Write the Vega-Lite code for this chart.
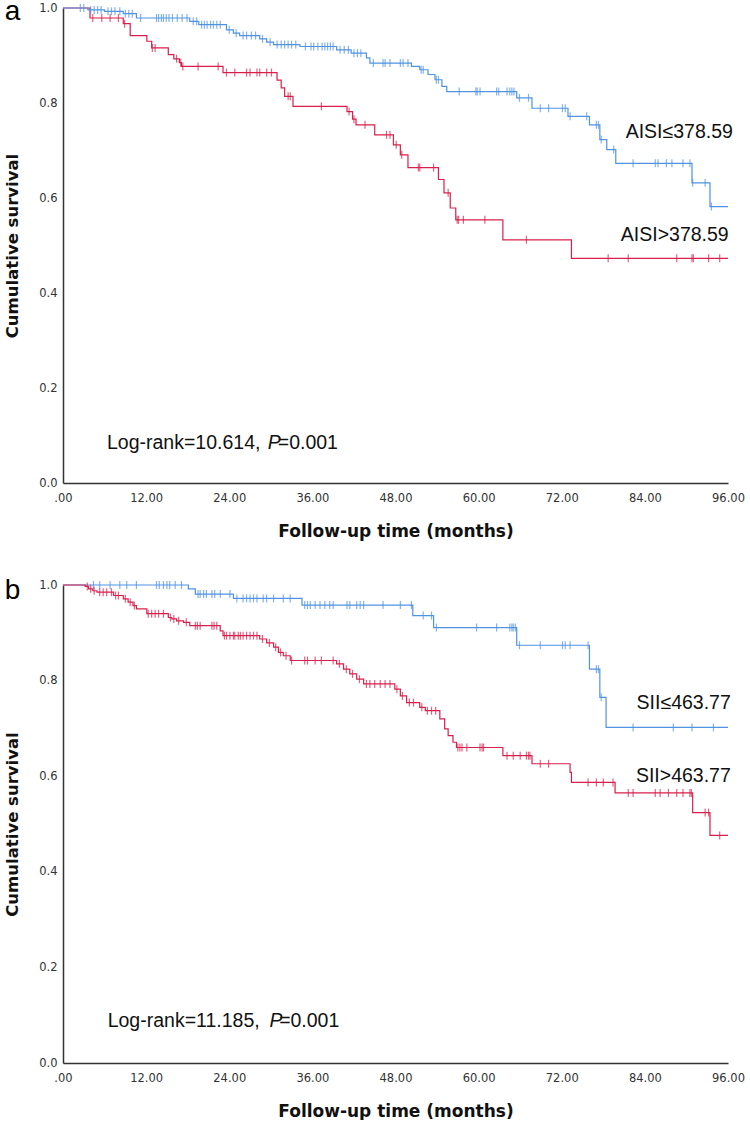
{
  "$schema": "https://vega.github.io/schema/vega-lite/v6.json",
  "background": "white",
  "padding": {"left": 4, "top": -3, "right": 0, "bottom": 0},
  "spacing": 36,
  "config": {
    "view": {"stroke": null},
    "axis": {
      "domainColor": "#333333",
      "domainWidth": 1.5,
      "ticks": false,
      "grid": false,
      "labelFont": "DejaVu Sans",
      "labelFontSize": 11.5,
      "labelColor": "#333333",
      "labelFlush": false,
      "titleFont": "DejaVu Sans",
      "titleFontSize": 16.5,
      "titleFontWeight": "bold",
      "titleColor": "#111111"
    },
    "axisX": {"labelPadding": 9, "titlePadding": 20, "labelAngle": 0, "titleFontSize": 17},
    "axisY": {"labelPadding": 6, "titlePadding": 18},
    "text": {"font": "Liberation Sans", "fontSize": 19.5, "color": "#111111"}
  },
  "vconcat": [
    {
      "width": 665,
      "height": 475,
      "layer": [
        {
          "data": {"values": [
            {"g":"high","t":0,"s":1,"c":0},
            {"g":"high","t":3.9,"s":0.979,"c":0},
            {"g":"high","t":4.3,"s":0.979,"c":1},
            {"g":"high","t":5.6,"s":0.979,"c":1},
            {"g":"high","t":6.8,"s":0.979,"c":1},
            {"g":"high","t":8.0,"s":0.979,"c":1},
            {"g":"high","t":8.7,"s":0.967,"c":0},
            {"g":"high","t":8.9,"s":0.967,"c":1},
            {"g":"high","t":9.7,"s":0.942,"c":0},
            {"g":"high","t":12.1,"s":0.930,"c":0},
            {"g":"high","t":12.8,"s":0.916,"c":0},
            {"g":"high","t":12.9,"s":0.916,"c":1},
            {"g":"high","t":13.3,"s":0.916,"c":1},
            {"g":"high","t":15.2,"s":0.902,"c":0},
            {"g":"high","t":16.0,"s":0.893,"c":0},
            {"g":"high","t":16.4,"s":0.893,"c":1},
            {"g":"high","t":16.8,"s":0.885,"c":0},
            {"g":"high","t":17.0,"s":0.885,"c":1},
            {"g":"high","t":17.1,"s":0.877,"c":0},
            {"g":"high","t":17.3,"s":0.877,"c":1},
            {"g":"high","t":19.5,"s":0.877,"c":1},
            {"g":"high","t":22.4,"s":0.877,"c":1},
            {"g":"high","t":23.1,"s":0.864,"c":0},
            {"g":"high","t":23.6,"s":0.864,"c":1},
            {"g":"high","t":24.8,"s":0.864,"c":1},
            {"g":"high","t":26.5,"s":0.864,"c":1},
            {"g":"high","t":27.0,"s":0.864,"c":1},
            {"g":"high","t":28.0,"s":0.864,"c":1},
            {"g":"high","t":28.4,"s":0.864,"c":1},
            {"g":"high","t":29.4,"s":0.864,"c":1},
            {"g":"high","t":30.1,"s":0.864,"c":1},
            {"g":"high","t":30.9,"s":0.848,"c":0},
            {"g":"high","t":31.5,"s":0.832,"c":0},
            {"g":"high","t":32.0,"s":0.814,"c":0},
            {"g":"high","t":32.5,"s":0.814,"c":1},
            {"g":"high","t":32.8,"s":0.814,"c":1},
            {"g":"high","t":33.2,"s":0.793,"c":0},
            {"g":"high","t":37.3,"s":0.793,"c":1},
            {"g":"high","t":41.0,"s":0.782,"c":0},
            {"g":"high","t":41.3,"s":0.782,"c":1},
            {"g":"high","t":41.8,"s":0.766,"c":0},
            {"g":"high","t":42.0,"s":0.766,"c":1},
            {"g":"high","t":42.3,"s":0.754,"c":0},
            {"g":"high","t":43.6,"s":0.754,"c":1},
            {"g":"high","t":45.0,"s":0.733,"c":0},
            {"g":"high","t":46.7,"s":0.733,"c":1},
            {"g":"high","t":47.2,"s":0.733,"c":1},
            {"g":"high","t":47.7,"s":0.712,"c":0},
            {"g":"high","t":48.1,"s":0.712,"c":1},
            {"g":"high","t":48.7,"s":0.691,"c":0},
            {"g":"high","t":48.9,"s":0.691,"c":1},
            {"g":"high","t":49.8,"s":0.664,"c":0},
            {"g":"high","t":51.3,"s":0.664,"c":1},
            {"g":"high","t":51.5,"s":0.664,"c":1},
            {"g":"high","t":53.5,"s":0.664,"c":1},
            {"g":"high","t":54.2,"s":0.639,"c":0},
            {"g":"high","t":55.0,"s":0.611,"c":0},
            {"g":"high","t":55.6,"s":0.611,"c":1},
            {"g":"high","t":55.9,"s":0.579,"c":0},
            {"g":"high","t":56.7,"s":0.554,"c":0},
            {"g":"high","t":56.9,"s":0.554,"c":1},
            {"g":"high","t":57.1,"s":0.554,"c":1},
            {"g":"high","t":57.8,"s":0.554,"c":1},
            {"g":"high","t":60.9,"s":0.554,"c":1},
            {"g":"high","t":63.5,"s":0.512,"c":0},
            {"g":"high","t":66.9,"s":0.512,"c":1},
            {"g":"high","t":73.4,"s":0.473,"c":0},
            {"g":"high","t":78.7,"s":0.473,"c":1},
            {"g":"high","t":81.6,"s":0.473,"c":1},
            {"g":"high","t":88.6,"s":0.473,"c":1},
            {"g":"high","t":90.8,"s":0.473,"c":1},
            {"g":"high","t":91.0,"s":0.473,"c":1},
            {"g":"high","t":93.2,"s":0.473,"c":1},
            {"g":"high","t":94.8,"s":0.473,"c":1},
            {"g":"high","t":96.0,"s":0.473,"c":0},
            {"g":"low","t":0,"s":1,"c":0},
            {"g":"low","t":2.5,"s":1,"c":1},
            {"g":"low","t":3.0,"s":1,"c":1},
            {"g":"low","t":3.6,"s":0.996,"c":0},
            {"g":"low","t":4.0,"s":0.996,"c":1},
            {"g":"low","t":4.5,"s":0.996,"c":1},
            {"g":"low","t":5.0,"s":0.996,"c":1},
            {"g":"low","t":5.5,"s":0.996,"c":1},
            {"g":"low","t":6.0,"s":0.993,"c":0},
            {"g":"low","t":6.5,"s":0.993,"c":1},
            {"g":"low","t":7.0,"s":0.993,"c":1},
            {"g":"low","t":7.5,"s":0.993,"c":1},
            {"g":"low","t":8.2,"s":0.993,"c":1},
            {"g":"low","t":8.7,"s":0.988,"c":0},
            {"g":"low","t":9.0,"s":0.988,"c":1},
            {"g":"low","t":9.5,"s":0.988,"c":1},
            {"g":"low","t":10.0,"s":0.988,"c":1},
            {"g":"low","t":10.6,"s":0.979,"c":0},
            {"g":"low","t":11.2,"s":0.979,"c":1},
            {"g":"low","t":13.5,"s":0.979,"c":1},
            {"g":"low","t":13.8,"s":0.979,"c":1},
            {"g":"low","t":14.2,"s":0.979,"c":1},
            {"g":"low","t":14.5,"s":0.979,"c":1},
            {"g":"low","t":14.9,"s":0.979,"c":1},
            {"g":"low","t":15.3,"s":0.979,"c":1},
            {"g":"low","t":15.8,"s":0.979,"c":1},
            {"g":"low","t":16.5,"s":0.979,"c":1},
            {"g":"low","t":17.2,"s":0.979,"c":1},
            {"g":"low","t":17.9,"s":0.979,"c":1},
            {"g":"low","t":18.3,"s":0.972,"c":0},
            {"g":"low","t":18.8,"s":0.972,"c":1},
            {"g":"low","t":19.3,"s":0.972,"c":1},
            {"g":"low","t":19.6,"s":0.965,"c":0},
            {"g":"low","t":20.0,"s":0.965,"c":1},
            {"g":"low","t":20.4,"s":0.965,"c":1},
            {"g":"low","t":20.8,"s":0.965,"c":1},
            {"g":"low","t":21.3,"s":0.965,"c":1},
            {"g":"low","t":21.7,"s":0.965,"c":1},
            {"g":"low","t":22.2,"s":0.965,"c":1},
            {"g":"low","t":22.7,"s":0.965,"c":1},
            {"g":"low","t":23.6,"s":0.954,"c":0},
            {"g":"low","t":24.0,"s":0.954,"c":1},
            {"g":"low","t":24.6,"s":0.947,"c":0},
            {"g":"low","t":25.0,"s":0.947,"c":1},
            {"g":"low","t":25.5,"s":0.942,"c":0},
            {"g":"low","t":26.0,"s":0.942,"c":1},
            {"g":"low","t":26.5,"s":0.942,"c":1},
            {"g":"low","t":27.2,"s":0.942,"c":1},
            {"g":"low","t":27.8,"s":0.942,"c":1},
            {"g":"low","t":28.4,"s":0.935,"c":0},
            {"g":"low","t":28.8,"s":0.935,"c":1},
            {"g":"low","t":29.4,"s":0.928,"c":0},
            {"g":"low","t":29.9,"s":0.928,"c":1},
            {"g":"low","t":30.4,"s":0.923,"c":0},
            {"g":"low","t":30.9,"s":0.923,"c":1},
            {"g":"low","t":31.5,"s":0.923,"c":1},
            {"g":"low","t":32.0,"s":0.923,"c":1},
            {"g":"low","t":32.5,"s":0.923,"c":1},
            {"g":"low","t":33.0,"s":0.923,"c":1},
            {"g":"low","t":33.6,"s":0.923,"c":1},
            {"g":"low","t":34.2,"s":0.919,"c":0},
            {"g":"low","t":35.0,"s":0.919,"c":1},
            {"g":"low","t":35.8,"s":0.919,"c":1},
            {"g":"low","t":36.2,"s":0.919,"c":1},
            {"g":"low","t":36.8,"s":0.919,"c":1},
            {"g":"low","t":37.4,"s":0.919,"c":1},
            {"g":"low","t":37.8,"s":0.919,"c":1},
            {"g":"low","t":38.2,"s":0.919,"c":1},
            {"g":"low","t":38.6,"s":0.919,"c":1},
            {"g":"low","t":39.0,"s":0.919,"c":1},
            {"g":"low","t":39.5,"s":0.912,"c":0},
            {"g":"low","t":40.0,"s":0.912,"c":1},
            {"g":"low","t":40.6,"s":0.912,"c":1},
            {"g":"low","t":41.2,"s":0.912,"c":1},
            {"g":"low","t":41.6,"s":0.905,"c":0},
            {"g":"low","t":42.0,"s":0.905,"c":1},
            {"g":"low","t":42.5,"s":0.905,"c":1},
            {"g":"low","t":43.0,"s":0.905,"c":1},
            {"g":"low","t":43.8,"s":0.895,"c":0},
            {"g":"low","t":44.3,"s":0.884,"c":0},
            {"g":"low","t":44.8,"s":0.884,"c":1},
            {"g":"low","t":46.2,"s":0.884,"c":1},
            {"g":"low","t":46.5,"s":0.884,"c":1},
            {"g":"low","t":47.2,"s":0.884,"c":1},
            {"g":"low","t":48.7,"s":0.884,"c":1},
            {"g":"low","t":49.1,"s":0.884,"c":1},
            {"g":"low","t":49.8,"s":0.884,"c":1},
            {"g":"low","t":50.3,"s":0.877,"c":0},
            {"g":"low","t":51.5,"s":0.870,"c":0},
            {"g":"low","t":51.7,"s":0.870,"c":1},
            {"g":"low","t":52.0,"s":0.870,"c":1},
            {"g":"low","t":52.7,"s":0.860,"c":0},
            {"g":"low","t":53.7,"s":0.849,"c":0},
            {"g":"low","t":53.9,"s":0.849,"c":1},
            {"g":"low","t":54.2,"s":0.849,"c":1},
            {"g":"low","t":54.7,"s":0.835,"c":0},
            {"g":"low","t":55.4,"s":0.824,"c":0},
            {"g":"low","t":57.2,"s":0.824,"c":1},
            {"g":"low","t":59.6,"s":0.824,"c":1},
            {"g":"low","t":59.8,"s":0.824,"c":1},
            {"g":"low","t":60.2,"s":0.824,"c":1},
            {"g":"low","t":62.6,"s":0.824,"c":1},
            {"g":"low","t":62.9,"s":0.824,"c":1},
            {"g":"low","t":64.1,"s":0.824,"c":1},
            {"g":"low","t":64.5,"s":0.824,"c":1},
            {"g":"low","t":64.8,"s":0.824,"c":1},
            {"g":"low","t":65.1,"s":0.824,"c":1},
            {"g":"low","t":65.5,"s":0.811,"c":0},
            {"g":"low","t":65.9,"s":0.811,"c":1},
            {"g":"low","t":67.2,"s":0.811,"c":1},
            {"g":"low","t":67.7,"s":0.789,"c":0},
            {"g":"low","t":68.9,"s":0.789,"c":1},
            {"g":"low","t":70.1,"s":0.789,"c":1},
            {"g":"low","t":72.1,"s":0.789,"c":1},
            {"g":"low","t":72.5,"s":0.789,"c":1},
            {"g":"low","t":72.9,"s":0.772,"c":0},
            {"g":"low","t":73.2,"s":0.772,"c":1},
            {"g":"low","t":75.6,"s":0.772,"c":1},
            {"g":"low","t":76.0,"s":0.754,"c":0},
            {"g":"low","t":77.0,"s":0.754,"c":1},
            {"g":"low","t":77.3,"s":0.754,"c":1},
            {"g":"low","t":77.5,"s":0.723,"c":0},
            {"g":"low","t":77.7,"s":0.723,"c":1},
            {"g":"low","t":78.5,"s":0.702,"c":0},
            {"g":"low","t":79.5,"s":0.702,"c":1},
            {"g":"low","t":79.8,"s":0.673,"c":0},
            {"g":"low","t":82.3,"s":0.673,"c":1},
            {"g":"low","t":85.5,"s":0.673,"c":1},
            {"g":"low","t":85.9,"s":0.673,"c":1},
            {"g":"low","t":87.1,"s":0.673,"c":1},
            {"g":"low","t":87.9,"s":0.673,"c":1},
            {"g":"low","t":89.5,"s":0.673,"c":1},
            {"g":"low","t":90.5,"s":0.673,"c":1},
            {"g":"low","t":90.8,"s":0.632,"c":0},
            {"g":"low","t":90.9,"s":0.632,"c":1},
            {"g":"low","t":92.7,"s":0.632,"c":1},
            {"g":"low","t":93.4,"s":0.582,"c":0},
            {"g":"low","t":93.6,"s":0.582,"c":1},
            {"g":"low","t":96.0,"s":0.582,"c":0}
          ]},
          "encoding": {
            "x": {"field": "t", "type": "quantitative", "scale": {"domain": [0, 96], "nice": false}, "axis": {"title": "Follow-up time (months)", "values": [0, 12, 24, 36, 48, 60, 72, 84, 96], "labelExpr": "datum.value == 0 ? '.00' : format(datum.value, '.2f')"}},
            "y": {"field": "s", "type": "quantitative", "scale": {"domain": [0, 1], "nice": false}, "axis": {"title": "Cumulative survival", "values": [0, 0.2, 0.4, 0.6, 0.8, 1], "format": ".1f"}},
            "color": {"field": "g", "type": "nominal", "scale": {"domain": ["low", "high"], "range": ["#4f93e3", "#d91f4b"]}, "legend": null}
          },
          "layer": [
            {"mark": {"type": "line", "interpolate": "step-after", "strokeWidth": 1.2}},
            {"transform": [{"filter": "datum.c == 1"}], "mark": {"type": "tick", "orient": "vertical", "size": 8, "thickness": 1.2}}
          ]
        },
        {"data": {"values": [{"label": "a"}]}, "mark": {"type": "text", "align": "left", "baseline": "alphabetic", "fontSize": 28, "color": "#000000"}, "encoding": {"x": {"datum": -8.4, "type": "quantitative"}, "y": {"datum": 0.975, "type": "quantitative"}, "text": {"field": "label"}}},
        {"data": {"values": [{"label": "AISI≤378.59"}]}, "mark": {"type": "text", "align": "right", "baseline": "middle"}, "encoding": {"x": {"datum": 96.7, "type": "quantitative"}, "y": {"datum": 0.740, "type": "quantitative"}, "text": {"field": "label"}}},
        {"data": {"values": [{"label": "AISI>378.59"}]}, "mark": {"type": "text", "align": "right", "baseline": "middle"}, "encoding": {"x": {"datum": 96.1, "type": "quantitative"}, "y": {"datum": 0.523, "type": "quantitative"}, "text": {"field": "label"}}},
        {"data": {"values": [{"label": "Log-rank=10.614,"}]}, "mark": {"type": "text", "align": "left", "baseline": "middle"}, "encoding": {"x": {"datum": 6.35, "type": "quantitative"}, "y": {"datum": 0.085, "type": "quantitative"}, "text": {"field": "label"}}},
        {"data": {"values": [{"label": "P"}]}, "mark": {"type": "text", "align": "left", "baseline": "middle", "fontStyle": "italic"}, "encoding": {"x": {"datum": 29.55, "type": "quantitative"}, "y": {"datum": 0.085, "type": "quantitative"}, "text": {"field": "label"}}},
        {"data": {"values": [{"label": "=0.001"}]}, "mark": {"type": "text", "align": "left", "baseline": "middle"}, "encoding": {"x": {"datum": 31.0, "type": "quantitative"}, "y": {"datum": 0.085, "type": "quantitative"}, "text": {"field": "label"}}}
      ]
    },
    {
      "width": 665,
      "height": 478,
      "layer": [
        {
          "data": {"values": [
            {"g":"low","t":0,"s":1,"c":0},
            {"g":"low","t":4.4,"s":1,"c":1},
            {"g":"low","t":5.3,"s":1,"c":1},
            {"g":"low","t":6.8,"s":1,"c":1},
            {"g":"low","t":8.2,"s":1,"c":1},
            {"g":"low","t":9.2,"s":1,"c":1},
            {"g":"low","t":10.6,"s":1,"c":1},
            {"g":"low","t":13.5,"s":1,"c":1},
            {"g":"low","t":13.9,"s":1,"c":1},
            {"g":"low","t":14.5,"s":1,"c":1},
            {"g":"low","t":15.0,"s":1,"c":1},
            {"g":"low","t":15.4,"s":1,"c":1},
            {"g":"low","t":16.2,"s":1,"c":1},
            {"g":"low","t":17.1,"s":1,"c":1},
            {"g":"low","t":18.1,"s":0.992,"c":0},
            {"g":"low","t":19.1,"s":0.981,"c":0},
            {"g":"low","t":19.5,"s":0.981,"c":1},
            {"g":"low","t":19.8,"s":0.981,"c":1},
            {"g":"low","t":20.3,"s":0.981,"c":1},
            {"g":"low","t":20.7,"s":0.981,"c":1},
            {"g":"low","t":21.5,"s":0.981,"c":1},
            {"g":"low","t":21.9,"s":0.981,"c":1},
            {"g":"low","t":22.7,"s":0.981,"c":1},
            {"g":"low","t":24.1,"s":0.981,"c":1},
            {"g":"low","t":24.6,"s":0.972,"c":0},
            {"g":"low","t":25.1,"s":0.972,"c":1},
            {"g":"low","t":26.0,"s":0.972,"c":1},
            {"g":"low","t":26.5,"s":0.972,"c":1},
            {"g":"low","t":27.0,"s":0.972,"c":1},
            {"g":"low","t":27.5,"s":0.972,"c":1},
            {"g":"low","t":28.0,"s":0.972,"c":1},
            {"g":"low","t":28.9,"s":0.972,"c":1},
            {"g":"low","t":29.4,"s":0.972,"c":1},
            {"g":"low","t":30.4,"s":0.972,"c":1},
            {"g":"low","t":31.8,"s":0.972,"c":1},
            {"g":"low","t":32.8,"s":0.972,"c":1},
            {"g":"low","t":34.5,"s":0.958,"c":0},
            {"g":"low","t":34.9,"s":0.958,"c":1},
            {"g":"low","t":35.3,"s":0.958,"c":1},
            {"g":"low","t":35.7,"s":0.958,"c":1},
            {"g":"low","t":36.4,"s":0.958,"c":1},
            {"g":"low","t":37.1,"s":0.958,"c":1},
            {"g":"low","t":37.8,"s":0.958,"c":1},
            {"g":"low","t":38.5,"s":0.958,"c":1},
            {"g":"low","t":39.0,"s":0.958,"c":1},
            {"g":"low","t":41.0,"s":0.958,"c":1},
            {"g":"low","t":41.4,"s":0.958,"c":1},
            {"g":"low","t":42.4,"s":0.958,"c":1},
            {"g":"low","t":42.9,"s":0.958,"c":1},
            {"g":"low","t":43.4,"s":0.958,"c":1},
            {"g":"low","t":46.2,"s":0.958,"c":1},
            {"g":"low","t":48.7,"s":0.958,"c":1},
            {"g":"low","t":50.3,"s":0.958,"c":1},
            {"g":"low","t":50.5,"s":0.936,"c":0},
            {"g":"low","t":52.0,"s":0.936,"c":1},
            {"g":"low","t":53.2,"s":0.936,"c":1},
            {"g":"low","t":53.5,"s":0.911,"c":0},
            {"g":"low","t":53.9,"s":0.911,"c":1},
            {"g":"low","t":59.7,"s":0.911,"c":1},
            {"g":"low","t":62.6,"s":0.911,"c":1},
            {"g":"low","t":64.5,"s":0.911,"c":1},
            {"g":"low","t":64.8,"s":0.911,"c":1},
            {"g":"low","t":65.0,"s":0.911,"c":1},
            {"g":"low","t":65.3,"s":0.911,"c":1},
            {"g":"low","t":65.5,"s":0.874,"c":0},
            {"g":"low","t":65.9,"s":0.874,"c":1},
            {"g":"low","t":68.9,"s":0.874,"c":1},
            {"g":"low","t":72.1,"s":0.874,"c":1},
            {"g":"low","t":72.5,"s":0.874,"c":1},
            {"g":"low","t":73.2,"s":0.874,"c":1},
            {"g":"low","t":75.8,"s":0.874,"c":1},
            {"g":"low","t":76.0,"s":0.824,"c":0},
            {"g":"low","t":77.0,"s":0.824,"c":1},
            {"g":"low","t":77.3,"s":0.824,"c":1},
            {"g":"low","t":77.5,"s":0.765,"c":0},
            {"g":"low","t":77.7,"s":0.765,"c":1},
            {"g":"low","t":78.4,"s":0.702,"c":0},
            {"g":"low","t":82.3,"s":0.702,"c":1},
            {"g":"low","t":88.1,"s":0.702,"c":1},
            {"g":"low","t":90.8,"s":0.702,"c":1},
            {"g":"low","t":93.9,"s":0.702,"c":1},
            {"g":"low","t":96.0,"s":0.702,"c":0},
            {"g":"high","t":0,"s":1,"c":0},
            {"g":"high","t":3.2,"s":0.997,"c":0},
            {"g":"high","t":3.5,"s":0.997,"c":1},
            {"g":"high","t":3.7,"s":0.992,"c":0},
            {"g":"high","t":4.0,"s":0.992,"c":1},
            {"g":"high","t":4.3,"s":0.988,"c":0},
            {"g":"high","t":4.5,"s":0.988,"c":1},
            {"g":"high","t":4.9,"s":0.985,"c":0},
            {"g":"high","t":5.3,"s":0.985,"c":1},
            {"g":"high","t":5.8,"s":0.985,"c":1},
            {"g":"high","t":6.3,"s":0.985,"c":1},
            {"g":"high","t":7.0,"s":0.985,"c":1},
            {"g":"high","t":7.3,"s":0.978,"c":0},
            {"g":"high","t":7.6,"s":0.978,"c":1},
            {"g":"high","t":8.0,"s":0.978,"c":1},
            {"g":"high","t":8.7,"s":0.971,"c":0},
            {"g":"high","t":9.0,"s":0.971,"c":1},
            {"g":"high","t":9.4,"s":0.964,"c":0},
            {"g":"high","t":9.7,"s":0.964,"c":1},
            {"g":"high","t":10.1,"s":0.957,"c":0},
            {"g":"high","t":10.3,"s":0.957,"c":1},
            {"g":"high","t":10.6,"s":0.950,"c":0},
            {"g":"high","t":12.1,"s":0.940,"c":0},
            {"g":"high","t":12.3,"s":0.940,"c":1},
            {"g":"high","t":12.8,"s":0.940,"c":1},
            {"g":"high","t":13.3,"s":0.940,"c":1},
            {"g":"high","t":13.8,"s":0.940,"c":1},
            {"g":"high","t":14.5,"s":0.940,"c":1},
            {"g":"high","t":15.2,"s":0.932,"c":0},
            {"g":"high","t":15.5,"s":0.932,"c":1},
            {"g":"high","t":15.7,"s":0.929,"c":0},
            {"g":"high","t":16.0,"s":0.929,"c":1},
            {"g":"high","t":16.4,"s":0.925,"c":0},
            {"g":"high","t":16.7,"s":0.925,"c":1},
            {"g":"high","t":17.4,"s":0.922,"c":0},
            {"g":"high","t":17.8,"s":0.922,"c":1},
            {"g":"high","t":18.3,"s":0.915,"c":0},
            {"g":"high","t":19.1,"s":0.915,"c":1},
            {"g":"high","t":19.4,"s":0.915,"c":1},
            {"g":"high","t":19.8,"s":0.915,"c":1},
            {"g":"high","t":21.5,"s":0.915,"c":1},
            {"g":"high","t":21.8,"s":0.915,"c":1},
            {"g":"high","t":22.2,"s":0.915,"c":1},
            {"g":"high","t":22.7,"s":0.904,"c":0},
            {"g":"high","t":23.1,"s":0.894,"c":0},
            {"g":"high","t":23.3,"s":0.894,"c":1},
            {"g":"high","t":23.6,"s":0.894,"c":1},
            {"g":"high","t":24.1,"s":0.894,"c":1},
            {"g":"high","t":24.6,"s":0.894,"c":1},
            {"g":"high","t":24.8,"s":0.894,"c":1},
            {"g":"high","t":25.3,"s":0.894,"c":1},
            {"g":"high","t":25.6,"s":0.894,"c":1},
            {"g":"high","t":26.0,"s":0.894,"c":1},
            {"g":"high","t":26.5,"s":0.894,"c":1},
            {"g":"high","t":27.0,"s":0.894,"c":1},
            {"g":"high","t":27.5,"s":0.894,"c":1},
            {"g":"high","t":28.0,"s":0.894,"c":1},
            {"g":"high","t":28.4,"s":0.887,"c":0},
            {"g":"high","t":28.8,"s":0.887,"c":1},
            {"g":"high","t":29.4,"s":0.879,"c":0},
            {"g":"high","t":29.8,"s":0.879,"c":1},
            {"g":"high","t":30.4,"s":0.870,"c":0},
            {"g":"high","t":30.7,"s":0.870,"c":1},
            {"g":"high","t":31.1,"s":0.859,"c":0},
            {"g":"high","t":31.4,"s":0.859,"c":1},
            {"g":"high","t":31.8,"s":0.852,"c":0},
            {"g":"high","t":32.2,"s":0.852,"c":1},
            {"g":"high","t":32.8,"s":0.842,"c":0},
            {"g":"high","t":33.0,"s":0.842,"c":1},
            {"g":"high","t":34.9,"s":0.842,"c":1},
            {"g":"high","t":35.3,"s":0.842,"c":1},
            {"g":"high","t":36.4,"s":0.842,"c":1},
            {"g":"high","t":37.3,"s":0.842,"c":1},
            {"g":"high","t":39.0,"s":0.842,"c":1},
            {"g":"high","t":39.5,"s":0.835,"c":0},
            {"g":"high","t":39.9,"s":0.835,"c":1},
            {"g":"high","t":40.5,"s":0.824,"c":0},
            {"g":"high","t":40.9,"s":0.824,"c":1},
            {"g":"high","t":41.4,"s":0.814,"c":0},
            {"g":"high","t":41.8,"s":0.814,"c":1},
            {"g":"high","t":42.4,"s":0.803,"c":0},
            {"g":"high","t":42.8,"s":0.803,"c":1},
            {"g":"high","t":43.4,"s":0.793,"c":0},
            {"g":"high","t":43.8,"s":0.793,"c":1},
            {"g":"high","t":44.3,"s":0.793,"c":1},
            {"g":"high","t":45.0,"s":0.793,"c":1},
            {"g":"high","t":45.8,"s":0.793,"c":1},
            {"g":"high","t":46.5,"s":0.793,"c":1},
            {"g":"high","t":47.2,"s":0.793,"c":1},
            {"g":"high","t":47.9,"s":0.782,"c":0},
            {"g":"high","t":48.2,"s":0.782,"c":1},
            {"g":"high","t":48.7,"s":0.768,"c":0},
            {"g":"high","t":49.0,"s":0.768,"c":1},
            {"g":"high","t":49.6,"s":0.754,"c":0},
            {"g":"high","t":50.0,"s":0.754,"c":1},
            {"g":"high","t":50.6,"s":0.754,"c":1},
            {"g":"high","t":51.5,"s":0.744,"c":0},
            {"g":"high","t":51.8,"s":0.744,"c":1},
            {"g":"high","t":52.3,"s":0.737,"c":0},
            {"g":"high","t":52.6,"s":0.737,"c":1},
            {"g":"high","t":53.2,"s":0.737,"c":1},
            {"g":"high","t":53.8,"s":0.737,"c":1},
            {"g":"high","t":54.4,"s":0.720,"c":0},
            {"g":"high","t":55.1,"s":0.699,"c":0},
            {"g":"high","t":55.6,"s":0.685,"c":0},
            {"g":"high","t":56.3,"s":0.671,"c":0},
            {"g":"high","t":56.8,"s":0.660,"c":0},
            {"g":"high","t":57.0,"s":0.660,"c":1},
            {"g":"high","t":57.3,"s":0.660,"c":1},
            {"g":"high","t":57.6,"s":0.660,"c":1},
            {"g":"high","t":58.3,"s":0.660,"c":1},
            {"g":"high","t":60.2,"s":0.660,"c":1},
            {"g":"high","t":60.5,"s":0.660,"c":1},
            {"g":"high","t":60.7,"s":0.660,"c":1},
            {"g":"high","t":63.5,"s":0.643,"c":0},
            {"g":"high","t":64.1,"s":0.643,"c":1},
            {"g":"high","t":65.0,"s":0.643,"c":1},
            {"g":"high","t":66.0,"s":0.643,"c":1},
            {"g":"high","t":66.9,"s":0.643,"c":1},
            {"g":"high","t":67.2,"s":0.643,"c":1},
            {"g":"high","t":67.4,"s":0.643,"c":1},
            {"g":"high","t":67.7,"s":0.626,"c":0},
            {"g":"high","t":68.9,"s":0.626,"c":1},
            {"g":"high","t":70.1,"s":0.626,"c":1},
            {"g":"high","t":73.2,"s":0.608,"c":0},
            {"g":"high","t":73.4,"s":0.587,"c":0},
            {"g":"high","t":75.8,"s":0.587,"c":1},
            {"g":"high","t":77.0,"s":0.587,"c":1},
            {"g":"high","t":78.0,"s":0.587,"c":1},
            {"g":"high","t":79.4,"s":0.587,"c":1},
            {"g":"high","t":79.7,"s":0.565,"c":0},
            {"g":"high","t":81.6,"s":0.565,"c":1},
            {"g":"high","t":82.3,"s":0.565,"c":1},
            {"g":"high","t":85.5,"s":0.565,"c":1},
            {"g":"high","t":86.2,"s":0.565,"c":1},
            {"g":"high","t":87.4,"s":0.565,"c":1},
            {"g":"high","t":88.6,"s":0.565,"c":1},
            {"g":"high","t":89.5,"s":0.565,"c":1},
            {"g":"high","t":90.5,"s":0.565,"c":1},
            {"g":"high","t":90.7,"s":0.565,"c":1},
            {"g":"high","t":90.9,"s":0.524,"c":0},
            {"g":"high","t":92.7,"s":0.524,"c":1},
            {"g":"high","t":93.2,"s":0.524,"c":1},
            {"g":"high","t":93.4,"s":0.476,"c":0},
            {"g":"high","t":94.8,"s":0.476,"c":1},
            {"g":"high","t":96.0,"s":0.476,"c":0}
          ]},
          "encoding": {
            "x": {"field": "t", "type": "quantitative", "scale": {"domain": [0, 96], "nice": false}, "axis": {"title": "Follow-up time (months)", "values": [0, 12, 24, 36, 48, 60, 72, 84, 96], "labelExpr": "datum.value == 0 ? '.00' : format(datum.value, '.2f')"}},
            "y": {"field": "s", "type": "quantitative", "scale": {"domain": [0, 1], "nice": false}, "axis": {"title": "Cumulative survival", "values": [0, 0.2, 0.4, 0.6, 0.8, 1], "format": ".1f"}},
            "color": {"field": "g", "type": "nominal", "scale": {"domain": ["low", "high"], "range": ["#4f93e3", "#d91f4b"]}, "legend": null}
          },
          "layer": [
            {"mark": {"type": "line", "interpolate": "step-after", "strokeWidth": 1.2}},
            {"transform": [{"filter": "datum.c == 1"}], "mark": {"type": "tick", "orient": "vertical", "size": 8, "thickness": 1.2}}
          ]
        },
        {"data": {"values": [{"label": "b"}]}, "mark": {"type": "text", "align": "left", "baseline": "alphabetic", "fontSize": 28, "color": "#000000"}, "encoding": {"x": {"datum": -8.4, "type": "quantitative"}, "y": {"datum": 0.971, "type": "quantitative"}, "text": {"field": "label"}}},
        {"data": {"values": [{"label": "SII≤463.77"}]}, "mark": {"type": "text", "align": "right", "baseline": "middle"}, "encoding": {"x": {"datum": 96.4, "type": "quantitative"}, "y": {"datum": 0.754, "type": "quantitative"}, "text": {"field": "label"}}},
        {"data": {"values": [{"label": "SII>463.77"}]}, "mark": {"type": "text", "align": "right", "baseline": "middle"}, "encoding": {"x": {"datum": 96.4, "type": "quantitative"}, "y": {"datum": 0.601, "type": "quantitative"}, "text": {"field": "label"}}},
        {"data": {"values": [{"label": "Log-rank=11.185,"}]}, "mark": {"type": "text", "align": "left", "baseline": "middle"}, "encoding": {"x": {"datum": 6.45, "type": "quantitative"}, "y": {"datum": 0.088, "type": "quantitative"}, "text": {"field": "label"}}},
        {"data": {"values": [{"label": "P"}]}, "mark": {"type": "text", "align": "left", "baseline": "middle", "fontStyle": "italic"}, "encoding": {"x": {"datum": 29.8, "type": "quantitative"}, "y": {"datum": 0.088, "type": "quantitative"}, "text": {"field": "label"}}},
        {"data": {"values": [{"label": "=0.001"}]}, "mark": {"type": "text", "align": "left", "baseline": "middle"}, "encoding": {"x": {"datum": 31.2, "type": "quantitative"}, "y": {"datum": 0.088, "type": "quantitative"}, "text": {"field": "label"}}}
      ]
    }
  ]
}
